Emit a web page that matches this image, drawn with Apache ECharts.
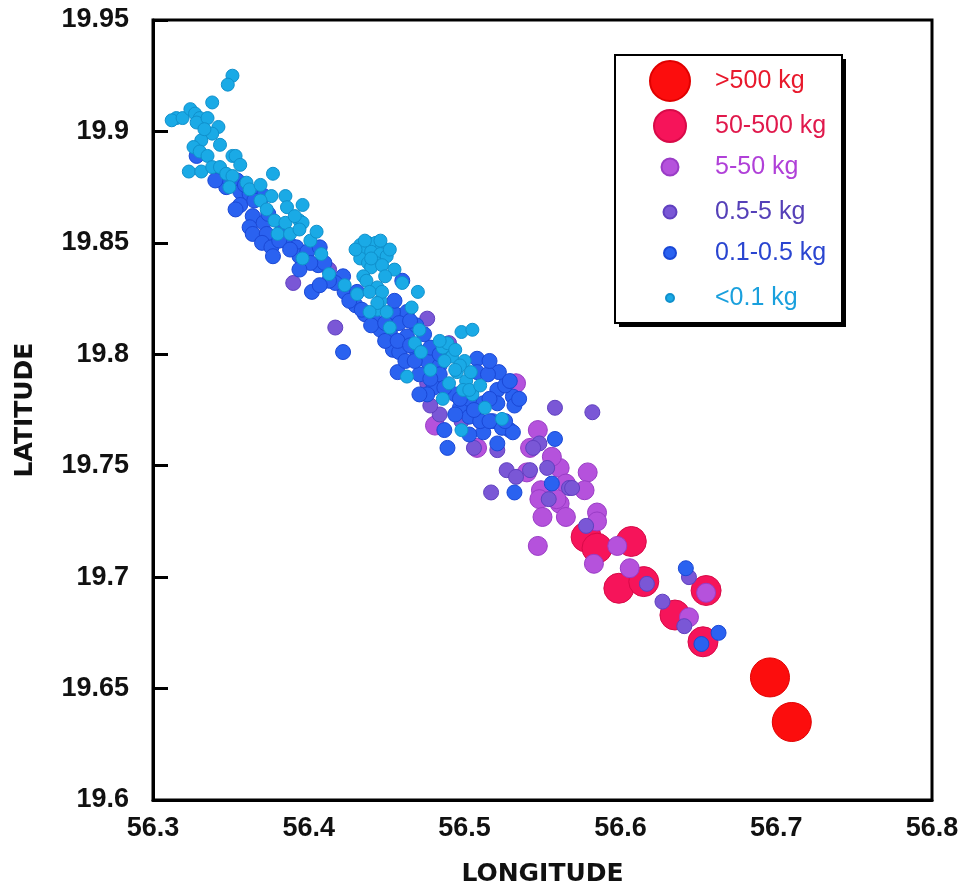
<!DOCTYPE html>
<html>
<head>
<meta charset="utf-8">
<script src="https://cdn.jsdelivr.net/npm/echarts@6/dist/echarts.min.js"></script>
<style>
html,body{margin:0;padding:0;background:#fff;}
#chart{width:968px;height:894px;}
</style>
</head>
<body>
<div id="chart"></div>
<script>
// Class labels (legend order)
const classNames = ['>500 kg', '50-500 kg', '5-50 kg', '0.5-5 kg', '0.1-0.5 kg', '<0.1 kg'];
const xTicks = [56.3, 56.4, 56.5, 56.6, 56.7, 56.8];
const yTicks = [19.6, 19.65, 19.7, 19.75, 19.8, 19.85, 19.9, 19.95];

// [longitude, latitude] per mass class
const ptsOver500 = [[56.696, 19.655], [56.710, 19.635]];
const pts50to500 = [
  [56.578, 19.718], [56.585, 19.713], [56.607, 19.716], [56.599, 19.695],
  [56.615, 19.698], [56.635, 19.683], [56.655, 19.694], [56.653, 19.671]
];
const pts5to50 = [
  [56.533, 19.787], [56.547, 19.766], [56.508, 19.758], [56.481, 19.768],
  [56.542, 19.758], [56.579, 19.747], [56.577, 19.739], [56.540, 19.747],
  [56.549, 19.739], [56.548, 19.735], [56.550, 19.727], [56.561, 19.733],
  [56.565, 19.727], [56.585, 19.729], [56.561, 19.749], [56.556, 19.754],
  [56.565, 19.742], [56.559, 19.735], [56.585, 19.725], [56.547, 19.714],
  [56.583, 19.706], [56.598, 19.714], [56.606, 19.704], [56.644, 19.682],
  [56.655, 19.693]
];
const pts05to5 = [
  [56.390, 19.832], [56.417, 19.812], [56.413, 19.838], [56.476, 19.816],
  [56.483, 19.790], [56.476, 19.787], [56.490, 19.805], [56.484, 19.773],
  [56.510, 19.770], [56.506, 19.758], [56.521, 19.757], [56.548, 19.760],
  [56.558, 19.776], [56.582, 19.774], [56.527, 19.748], [56.533, 19.745],
  [56.517, 19.738], [56.544, 19.758], [56.567, 19.740], [56.553, 19.749],
  [56.554, 19.735], [56.578, 19.723], [56.569, 19.740], [56.617, 19.697],
  [56.627, 19.689], [56.641, 19.678], [56.644, 19.700], [56.542, 19.748],
  [56.478, 19.777], [56.498, 19.770]
];
const pts01to05 = [
  [56.347, 19.875], [56.354, 19.878], [56.356, 19.873], [56.362, 19.872],
  [56.367, 19.872], [56.364, 19.862], [56.362, 19.857], [56.364, 19.854],
  [56.371, 19.859], [56.374, 19.863], [56.373, 19.854], [56.328, 19.889],
  [56.371, 19.871], [56.370, 19.850], [56.376, 19.848], [56.377, 19.844],
  [56.383, 19.856], [56.387, 19.850], [56.392, 19.848], [56.394, 19.844],
  [56.399, 19.846], [56.407, 19.848], [56.406, 19.840], [56.410, 19.841],
  [56.422, 19.835], [56.423, 19.828], [56.402, 19.828], [56.422, 19.801],
  [56.460, 19.833], [56.463, 19.819], [56.442, 19.815], [56.452, 19.810],
  [56.463, 19.808], [56.469, 19.802], [56.454, 19.802], [56.488, 19.801],
  [56.431, 19.828], [56.454, 19.819], [56.458, 19.814], [56.469, 19.813],
  [56.458, 19.801], [56.457, 19.792], [56.476, 19.797], [56.484, 19.795],
  [56.508, 19.798], [56.508, 19.792], [56.521, 19.784], [56.531, 19.781],
  [56.512, 19.778], [56.518, 19.770], [56.529, 19.766], [56.489, 19.758],
  [56.521, 19.760], [56.480, 19.785], [56.476, 19.782], [56.497, 19.776],
  [56.503, 19.772], [56.512, 19.765], [56.478, 19.803], [56.558, 19.762],
  [56.532, 19.738], [56.556, 19.742], [56.524, 19.767], [56.531, 19.765],
  [56.521, 19.778], [56.510, 19.770], [56.642, 19.704], [56.663, 19.675],
  [56.652, 19.670], [56.356, 19.867], [56.417, 19.832], [56.430, 19.822],
  [56.436, 19.818], [56.446, 19.811], [56.449, 19.806], [56.462, 19.797],
  [56.471, 19.791], [56.484, 19.791], [56.494, 19.773], [56.455, 19.824],
  [56.465, 19.815], [56.474, 19.809], [56.484, 19.800], [56.494, 19.782],
  [56.503, 19.780], [56.516, 19.780], [56.526, 19.786], [56.522, 19.792],
  [56.532, 19.777], [56.515, 19.791], [56.471, 19.782], [56.487, 19.766],
  [56.503, 19.764], [56.468, 19.797],
  [56.359, 19.876], [56.365, 19.869], [56.381, 19.851], [56.388, 19.847],
  [56.401, 19.841], [56.413, 19.833], [56.426, 19.824], [56.434, 19.820],
  [56.440, 19.813], [56.449, 19.814], [56.457, 19.806], [56.465, 19.804],
  [56.478, 19.789], [56.487, 19.785], [56.497, 19.780], [56.506, 19.775],
  [56.516, 19.770], [56.526, 19.770], [56.535, 19.780], [56.529, 19.788],
  [56.516, 19.797], [56.346, 19.880], [56.340, 19.878], [56.353, 19.865],
  [56.394, 19.838], [56.407, 19.831]
];
const ptsUnder01 = [
  [56.351, 19.925], [56.348, 19.921], [56.338, 19.913], [56.315, 19.906],
  [56.312, 19.905], [56.319, 19.906], [56.324, 19.910], [56.327, 19.908],
  [56.330, 19.906], [56.328, 19.904], [56.335, 19.906], [56.342, 19.902],
  [56.338, 19.899], [56.331, 19.896], [56.326, 19.893], [56.330, 19.891],
  [56.335, 19.889], [56.351, 19.889], [56.353, 19.889], [56.323, 19.882],
  [56.331, 19.882], [56.338, 19.884], [56.343, 19.884], [56.347, 19.881],
  [56.351, 19.880], [56.377, 19.881], [56.360, 19.877], [56.362, 19.874],
  [56.349, 19.875], [56.376, 19.871], [56.385, 19.871], [56.396, 19.867],
  [56.386, 19.866], [56.369, 19.869], [56.373, 19.865], [56.378, 19.860],
  [56.385, 19.859], [56.394, 19.860], [56.380, 19.854], [56.388, 19.854],
  [56.396, 19.859], [56.394, 19.856], [56.396, 19.843], [56.408, 19.845],
  [56.413, 19.836], [56.423, 19.831], [56.431, 19.827], [56.433, 19.849],
  [56.438, 19.850], [56.443, 19.850], [56.447, 19.848], [56.435, 19.846],
  [56.440, 19.846], [56.446, 19.845], [56.450, 19.844], [56.433, 19.843],
  [56.438, 19.841], [56.443, 19.841], [56.440, 19.839], [56.447, 19.840],
  [56.435, 19.835], [56.437, 19.833], [56.455, 19.838], [56.449, 19.835],
  [56.444, 19.830], [56.439, 19.828], [56.446, 19.824], [56.444, 19.820],
  [56.450, 19.819], [56.452, 19.812], [56.460, 19.832], [56.470, 19.828],
  [56.466, 19.821], [56.471, 19.811], [56.468, 19.805], [56.472, 19.801],
  [56.486, 19.803], [56.447, 19.828], [56.444, 19.823], [56.439, 19.819],
  [56.498, 19.810], [56.505, 19.811], [56.489, 19.805], [56.492, 19.799],
  [56.500, 19.797], [56.495, 19.792], [56.501, 19.788], [56.490, 19.787],
  [56.499, 19.784], [56.505, 19.782], [56.513, 19.776], [56.486, 19.780],
  [56.478, 19.793], [56.463, 19.790], [56.498, 19.766], [56.524, 19.771],
  [56.497, 19.795], [56.494, 19.802], [56.504, 19.792], [56.401, 19.851],
  [56.405, 19.855],
  [56.430, 19.847], [56.452, 19.847], [56.436, 19.851], [56.446, 19.851],
  [56.440, 19.843], [56.494, 19.793], [56.487, 19.797], [56.503, 19.784],
  [56.510, 19.786], [56.484, 19.806], [56.333, 19.901], [56.343, 19.894],
  [56.356, 19.885], [56.369, 19.876], [56.391, 19.862]
];

const seriesPts = [ptsOver500, pts50to500, pts5to50, pts05to5, pts01to05, ptsUnder01];
const fills   = ['#FC0D0D', '#F6145A', '#B552DC', '#7A57D6', '#2A62F0', '#1AAAE6'];
const borders = ['#E00000', '#D80A48', '#9A3CC6', '#6040C0', '#1A48D6', '#1090CC'];
const plotSizes = [39, 30, 19, 15, 15, 13];
const legendSizes = [40, 32, 17, 13, 12, 8];
const legendTextColors = ['#E8192C', '#E0194C', '#B040D8', '#5540B8', '#2A45D0', '#1AA0DD'];
const legendRowCenters = [80, 125, 167, 212, 253, 298];
const legendIconCenterX = 669;
const legendTextX = 714;

const chart = echarts.init(document.getElementById('chart'), null, {renderer: 'canvas'});

const series = classNames.map((n, i) => ({
  name: n,
  type: 'scatter',
  data: seriesPts[i],
  symbol: 'circle',
  symbolSize: plotSizes[i],
  itemStyle: {color: fills[i], borderColor: borders[i], borderWidth: 1, opacity: 1},
  emphasis: {disabled: true},
  z: 2 + i
}));

const legends = classNames.map((n, i) => {
  const s = legendSizes[i];
  const h = Math.max(s, 25);
  const left = legendIconCenterX - s / 2;
  const pad = legendTextX - (left + s + 5);
  return {
    data: [n],
    left: left,
    top: legendRowCenters[i] - h / 2,
    padding: 0,
    itemWidth: s,
    itemHeight: s,
    selectedMode: false,
    icon: 'circle',
    formatter: name => '{t|' + name + '}',
    textStyle: {
      rich: {t: {fontFamily: 'Liberation Sans, Arial, sans-serif', fontSize: 25, color: legendTextColors[i], padding: [0, 0, 0, pad]}}
    },
    z: 10
  };
});

const option = {
  backgroundColor: '#ffffff',
  animation: false,
  grid: {left: 153, right: 36, top: 20, bottom: 94, show: true, borderColor: '#000', borderWidth: 3, containLabel: false},
  xAxis: {
    type: 'value', min: xTicks[0], max: xTicks[xTicks.length - 1], interval: 0.1,
    name: 'LONGITUDE', nameLocation: 'middle', nameGap: 62,
    nameTextStyle: {fontFamily: 'DejaVu Sans, sans-serif', fontWeight: 'bold', fontSize: 25, color: '#111'},
    axisLine: {show: true, lineStyle: {color: '#000', width: 3}},
    axisTick: {show: false},
    splitLine: {show: false},
    axisLabel: {fontFamily: 'Liberation Sans, Arial, sans-serif', fontWeight: 'bold', fontSize: 27, color: '#111', margin: 15,
      formatter: v => v.toFixed(1)}
  },
  yAxis: {
    type: 'value', min: yTicks[0], max: yTicks[yTicks.length - 1], interval: 0.05,
    name: 'LATITUDE', nameLocation: 'middle', nameGap: 115, nameRotate: 90,
    nameTextStyle: {fontFamily: 'DejaVu Sans, sans-serif', fontWeight: 'bold', fontSize: 25, color: '#111'},
    axisLine: {show: true, lineStyle: {color: '#000', width: 3}},
    axisTick: {show: true, inside: true, length: 15, lineStyle: {color: '#000', width: 3}},
    splitLine: {show: false},
    axisLabel: {fontFamily: 'Liberation Sans, Arial, sans-serif', fontWeight: 'bold', fontSize: 27, color: '#111', margin: 24,
      formatter: v => String(Math.round(v * 100) / 100)}
  },
  legend: legends,
  graphic: [
    {type: 'rect', z: 8, shape: {x: 619, y: 59, width: 227, height: 268}, style: {fill: '#000'}},
    {type: 'rect', z: 9, shape: {x: 615, y: 55, width: 227, height: 268}, style: {fill: '#fff', stroke: '#000', lineWidth: 2}}
  ],
  series: series
};
chart.setOption(option);
</script>
</body>
</html>
